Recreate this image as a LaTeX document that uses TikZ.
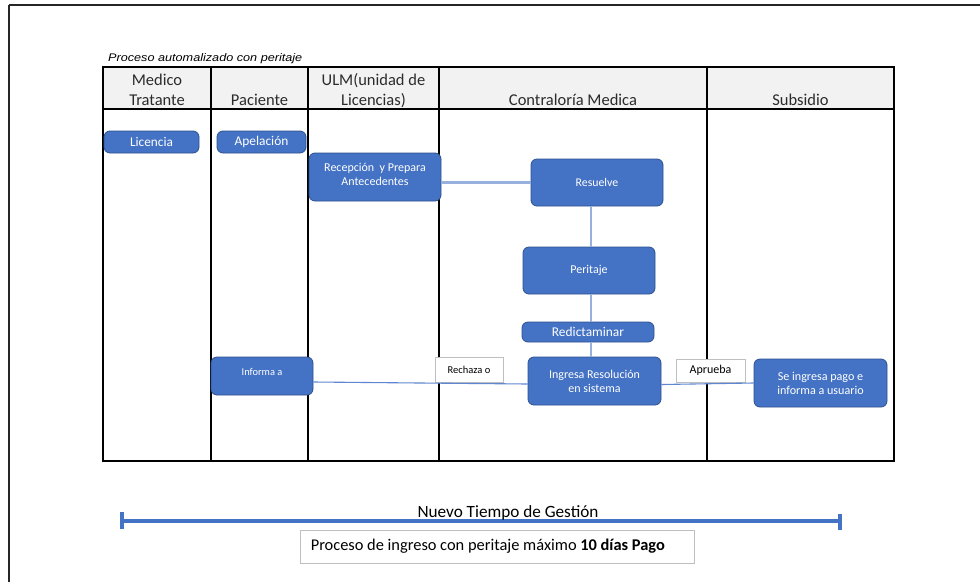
\documentclass[tikz,border=0pt]{standalone}
\usepackage{fontspec}
\setmainfont{Carlito}
\newfontfamily\capfont[FakeStretch=1.15]{Liberation Sans}
\usetikzlibrary{calc}
\definecolor{boxblue}{HTML}{4472C4}
\definecolor{boxedge}{HTML}{2F528F}
\definecolor{linkblue}{HTML}{97B0DE}
\definecolor{linkdark}{HTML}{5F86D0}
\definecolor{hdrfill}{HTML}{F2F2F2}
\definecolor{hdrtext}{HTML}{2B2B2B}
\definecolor{framegray}{HTML}{BFBFBF}
\tikzset{
  tbl/.style={line width=1.6pt, draw=black},
  hdr/.style={anchor=base, inner sep=0pt, text=hdrtext, font=\fontsize{16.5}{20}\selectfont},
  bluebox/.style={rectangle, rounded corners=6pt, fill=boxblue, draw=boxedge, line width=0.8pt,
    text=white, align=center, inner sep=0pt},
  tagbox/.style={rectangle, fill=white, draw=framegray, line width=0.8pt, inner sep=0pt,
    text=black, font=\fontsize{10.5}{12}\selectfont},
  link/.style={draw=linkblue, line width=2.2pt},
  thinlink/.style={draw=linkdark, line width=1.1pt},
  timeline/.style={draw=boxblue, line width=4pt}
}
\begin{document}
\begin{tikzpicture}[x=1pt,y=-1pt]
\useasboundingbox (0,0) rectangle (980,582);
\fill[white] (0,0) rectangle (980,582);

% page frame (top and left edges)
\draw[line width=2pt, black!85] (9,5) -- (980,5);
\draw[line width=2pt, black!85] (9,5) -- (9,582);

% caption
\node[anchor=base west, inner sep=0pt, font=\capfont\itshape\fontsize{11}{13}\selectfont] (caption)
  at (108,61) {Proceso automalizado con peritaje};

% swimlane table
\fill[hdrfill] (103,67) rectangle (894,109);
\draw[tbl] (103,67) rectangle (894,461);
\draw[tbl] (103,109) -- (894,109);
\foreach \x in {211,308,439,707} \draw[tbl] (\x,67) -- (\x,461);

% lane headers
\node[hdr] (hMed1) at (157,85.5) {Medico};
\node[hdr] (hMed2) at (157,105.5) {Tratante};
\node[hdr] (hPac) at (259.5,105.5) {Paciente};
\node[hdr] (hUlm1) at (373.5,85.5) {ULM(unidad de};
\node[hdr] (hUlm2) at (373.5,105.5) {Licencias)};
\node[hdr] (hCon) at (573,105.5) {Contralor\'ia Medica};
\node[hdr] (hSub) at (800.5,105.5) {Subsidio};

% process steps
\node[bluebox, minimum width=95pt, minimum height=22pt, font=\fontsize{13.3}{15}\selectfont]
  (lic) at (151.5,142) {Licencia};
\node[bluebox, minimum width=89pt, minimum height=22pt, font=\fontsize{13.4}{15}\selectfont]
  (ape) at (261.5,142) {Apelaci\'on};
\node[bluebox, minimum width=132pt, minimum height=48pt, font=\fontsize{12}{14}\selectfont,
  text depth=6pt] (rec) at (375,177) {Recepci\'on\ \ y Prepara\\Antecedentes};
\node[bluebox, minimum width=132pt, minimum height=47pt, font=\fontsize{11.8}{14}\selectfont]
  (res) at (597,182.5) {Resuelve};
\node[bluebox, minimum width=132pt, minimum height=47pt, font=\fontsize{12}{14}\selectfont]
  (per) at (589,270.5) {Peritaje};
\node[bluebox, minimum width=132pt, minimum height=20pt, font=\fontsize{13.4}{15}\selectfont]
  (red) at (588,332) {Redictaminar};
\node[bluebox, minimum width=102pt, minimum height=38pt, font=\fontsize{10.4}{12}\selectfont,
  text depth=8pt] (inf) at (262,376) {Informa a};
\node[bluebox, minimum width=133pt, minimum height=48pt, font=\fontsize{12}{14}\selectfont]
  (ing) at (594.5,381) {Ingresa Resoluci\'on\\en sistema};
\node[bluebox, minimum width=133pt, minimum height=48pt, font=\fontsize{12.1}{14}\selectfont]
  (pag) at (820.5,383) {Se ingresa pago e\\informa a usuario};

% decision tags
\node[tagbox, minimum width=68pt, minimum height=25pt] (rech) at (469,369.5) {Rechaza o};
\node[tagbox, minimum width=69pt, minimum height=23pt, font=\fontsize{12}{14}\selectfont]
  (apr) at (710.5,370.5) {Aprueba};

% connectors
\coordinate (spine) at (591,0);
\draw[link] (rec.east |- res.west) -- (res.west);
\draw[link] (res.south -| spine) -- (per.north -| spine);
\draw[link] (per.south -| spine) -- (red.north -| spine);
\draw[link] (red.south -| spine) -- (ing.north -| spine);
\draw[thinlink] ($(inf.east)+(0,6)$) -- ($(ing.west)+(0,3)$);
\draw[thinlink] ($(ing.east)+(0,3.5)$) -- (pag.west);

% time bar
\coordinate (tl) at (122,521);
\coordinate (tr) at (840,521);
\draw[timeline] (tl) -- (tr);
\draw[timeline] ($(tl)+(0,-9)$) -- ($(tl)+(0,8)$);
\draw[timeline] ($(tr)+(0,-7)$) -- ($(tr)+(0,9)$);
\node[inner sep=0pt, font=\fontsize{17.2}{20}\selectfont] (tlabel) at (508,513) {Nuevo Tiempo de Gesti\'on};
\node[rectangle, draw=framegray, line width=0.8pt, minimum width=394pt, minimum height=33pt,
  inner sep=0pt] (note) at (497,546.5) {};
\node[anchor=west, inner sep=0pt, font=\fontsize{16.4}{19}\selectfont] (notetext)
  at ($(note.west)+(11,0)$) {Proceso de ingreso con peritaje m\'aximo \textbf{10 d\'ias Pago}};
\end{tikzpicture}
\end{document}
